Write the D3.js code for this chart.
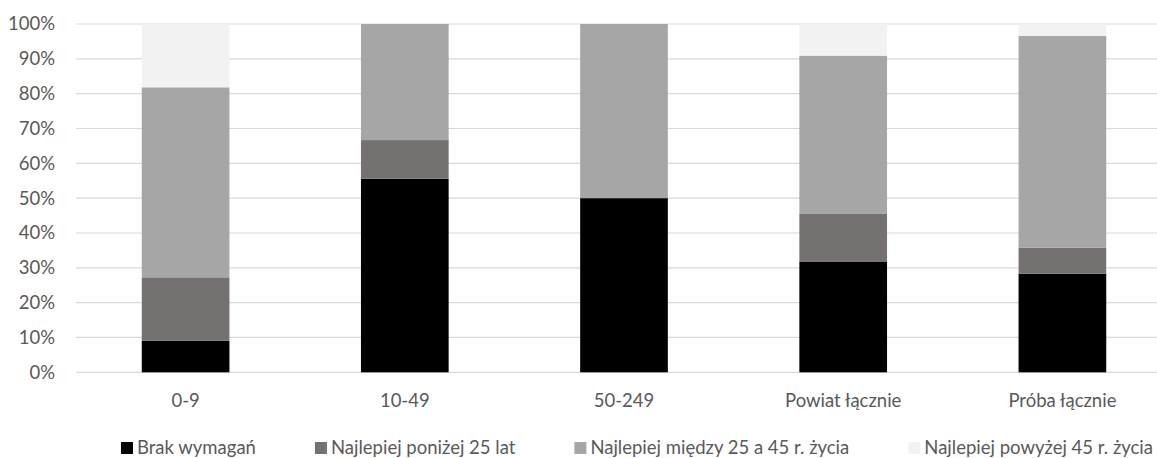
<!DOCTYPE html>
<html>
<head>
<meta charset="utf-8">
<script src="https://cdn.jsdelivr.net/npm/d3@7"></script>
<style>
  html, body { margin: 0; padding: 0; background: #fff; overflow: hidden; }
  svg { display: block; font-family: Lato, "Open Sans", sans-serif; }
</style>
</head>
<body>
<svg id="chart" width="1157" height="458"></svg>
<script>
// Company size groups and totals
const categories = ["0-9", "10-49", "50-249", "Powiat łącznie", "Próba łącznie"];

// Share of answers per age preference (percent)
const brakWymagan   = [9.09, 55.56, 50, 31.82, 28.3];
const ponizej25     = [18.18, 11.11, 0, 13.64, 7.5];
const miedzy25a45   = [54.55, 33.33, 50, 45.45, 60.8];
const powyzej45     = [18.18, 0, 0, 9.09, 3.4];

const seriesNames = [
  "Brak wymagań",
  "Najlepiej poniżej 25 lat",
  "Najlepiej między 25 a 45 r. życia",
  "Najlepiej powyżej 45 r. życia"
];
const seriesColors = ["#000000", "#767171", "#a6a6a6", "#f2f2f2"];

const yTicks = [0, 10, 20, 30, 40, 50, 60, 70, 80, 90, 100];

const seriesValues = [brakWymagan, ponizej25, miedzy25a45, powyzej45];
const rows = categories.map((c, i) => {
  const r = { cat: c };
  seriesNames.forEach((s, k) => { r[s] = seriesValues[k][i]; });
  return r;
});

const svg = d3.select("#chart");
const textColor = "#595959";
const fontSize = 18.5;

const x = d3.scaleBand()
  .domain(categories)
  .range([76, 1172])
  .paddingInner(0.6)
  .paddingOuter(0.3);

const y = d3.scaleLinear().domain([0, 100]).range([372.3, 24]);

// Gridlines
svg.append("g")
  .selectAll("line")
  .data(yTicks)
  .join("line")
  .attr("x1", 76).attr("x2", 1172)
  .attr("y1", d => y(d)).attr("y2", d => y(d))
  .attr("stroke", "#d9d9d9")
  .attr("stroke-width", 1.2);

// Y axis labels
const yAxis = d3.axisLeft(y).tickValues(yTicks).tickFormat(d => d + "%").tickSize(0).tickPadding(0);
const gy = svg.append("g").attr("transform", "translate(55,0)").call(yAxis);
gy.select(".domain").remove();
gy.selectAll("text")
  .attr("fill", textColor)
  .attr("font-size", fontSize)
  .attr("font-family", "Lato, sans-serif");

// Stacked bars
const stack = d3.stack().keys(seriesNames);
const layers = stack(rows);

svg.append("g")
  .selectAll("g")
  .data(layers)
  .join("g")
  .attr("fill", (d, i) => seriesColors[i])
  .selectAll("rect")
  .data(d => d)
  .join("rect")
  .attr("x", d => x(d.data.cat))
  .attr("width", x.bandwidth())
  .attr("y", d => y(d[1]))
  .attr("height", d => Math.max(0, y(d[0]) - y(d[1])));

// X axis labels
const xAxis = d3.axisBottom(x).tickSize(0).tickPadding(0);
const gx = svg.append("g").attr("transform", "translate(0,394)").call(xAxis);
gx.select(".domain").remove();
gx.selectAll("text")
  .attr("fill", textColor)
  .attr("font-size", fontSize)
  .attr("font-family", "Lato, sans-serif")
  .attr("dy", "0.71em");

// Legend spread between fixed outer edges
const legend = svg.append("g");
const items = legend.selectAll("g")
  .data(seriesNames)
  .join("g");
items.append("rect")
  .attr("width", 12).attr("height", 12)
  .attr("y", 442)
  .attr("fill", (d, i) => seriesColors[i]);
items.append("text")
  .attr("x", 16)
  .attr("y", 454)
  .attr("fill", textColor)
  .attr("font-size", fontSize)
  .attr("font-family", "Lato, sans-serif")
  .text(d => d);

const widths = [];
items.each(function () { widths.push(16 + d3.select(this).select("text").node().getComputedTextLength()); });
const left = 121, right = 1153;
const gap = (right - left - d3.sum(widths)) / (widths.length - 1);
let cx = left;
items.attr("transform", (d, i) => { const t = `translate(${cx},0)`; cx += widths[i] + gap; return t; });
</script>
</body>
</html>
